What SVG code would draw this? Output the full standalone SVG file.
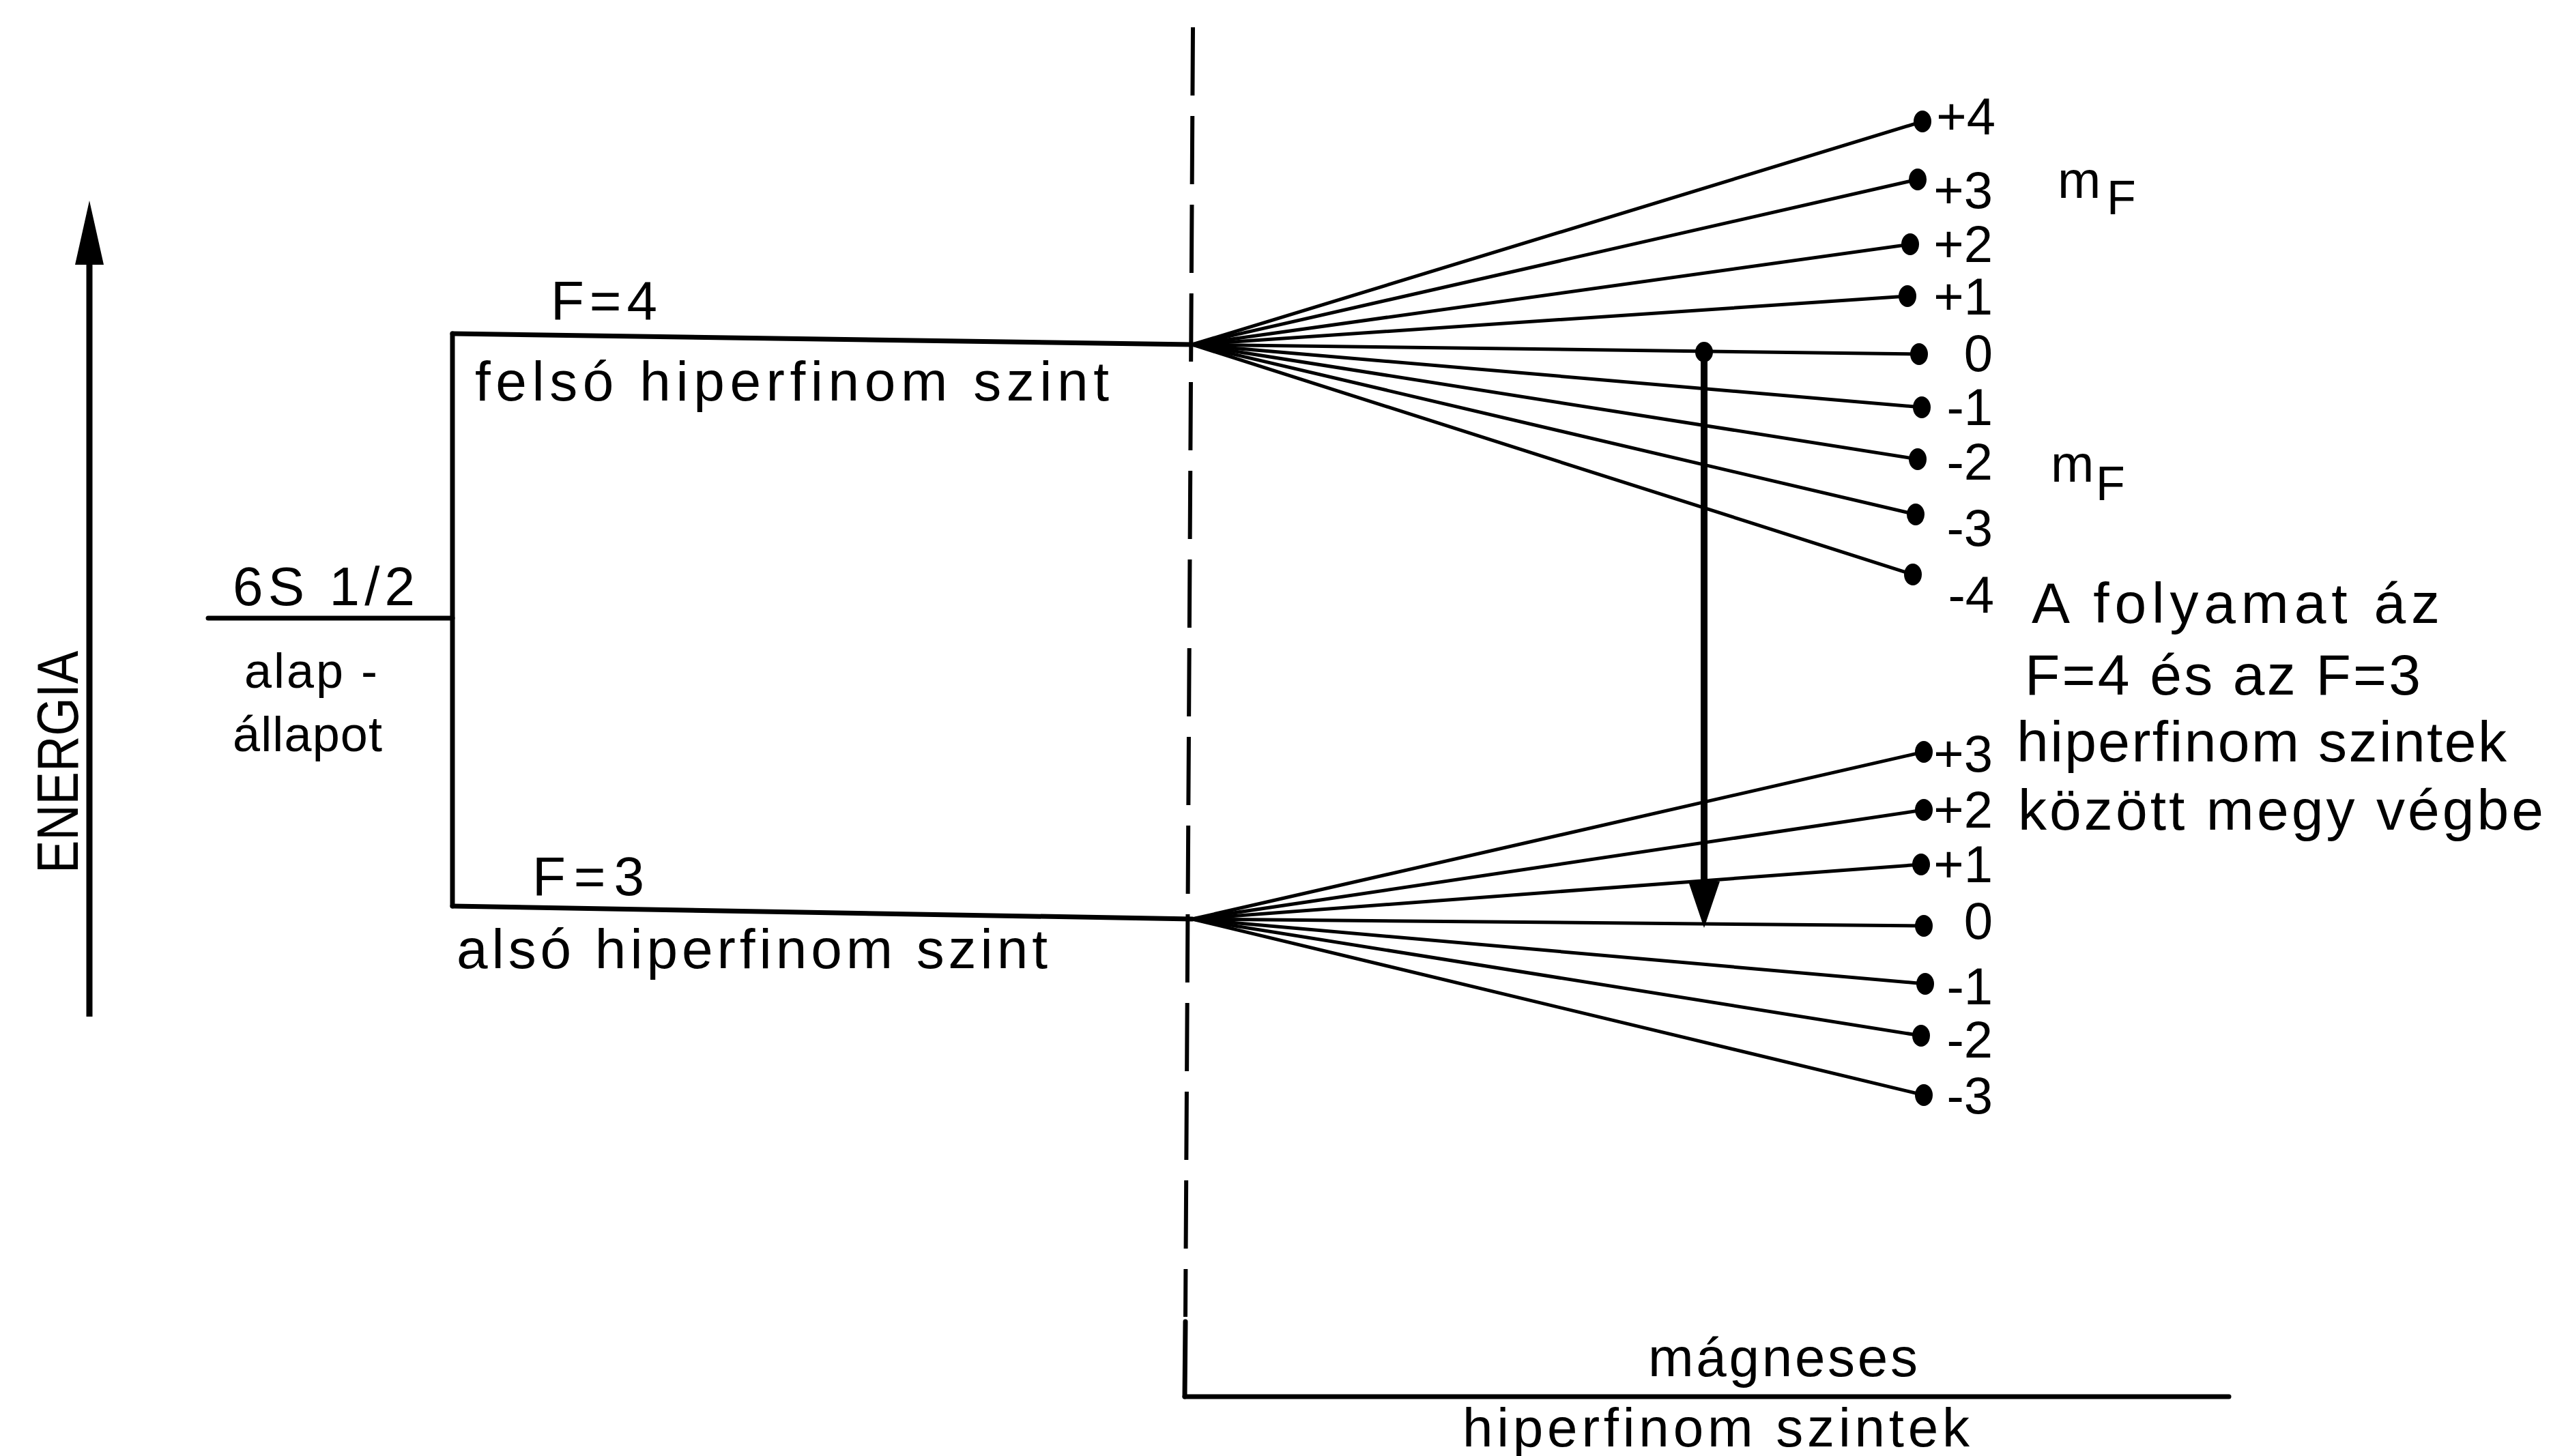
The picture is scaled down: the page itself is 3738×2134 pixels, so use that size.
<svg xmlns="http://www.w3.org/2000/svg" width="3738" height="2134" viewBox="0 0 3738 2134">
<style>
  .t { font-family: "Liberation Sans", Arial, sans-serif; fill: #000; }
  .num { font-family: "Liberation Sans", Arial, sans-serif; font-size: 76px; fill: #000; text-anchor: end; }
  .lvl { stroke: #000; stroke-width: 7; fill: none; stroke-linecap: round; }
  .fan { stroke: #000; stroke-width: 5; fill: none; stroke-linecap: round; }
  .dot { fill: #000; }
</style>
<rect width="3738" height="2134" fill="#fff"/>

<g id="energy-axis">
  <line x1="131" y1="370" x2="131" y2="1490" stroke="#000" stroke-width="9"/>
  <polygon points="131,294 110,388 152,388" fill="#000"/>
  <text class="t" transform="translate(114,1117) rotate(-90)" x="0" y="0" font-size="86" text-anchor="middle" textLength="326" lengthAdjust="spacingAndGlyphs">ENERGIA</text>
</g>

<g id="ground-state">
  <line class="lvl" x1="305" y1="906" x2="663" y2="906"/>
  <text class="t" x="341" y="887" font-size="80" textLength="267">6S 1/2</text>
  <text class="t" x="358" y="1008" font-size="72" textLength="195">alap -</text>
  <text class="t" x="341" y="1101" font-size="72" textLength="219">állapot</text>
</g>

<g id="bracket">
  <line class="lvl" x1="663" y1="489" x2="663" y2="1328"/>
</g>

<g id="level-F4">
  <line class="lvl" x1="663" y1="489" x2="1747" y2="505"/>
  <text class="t" x="807" y="468" font-size="80" textLength="156">F=4</text>
  <text class="t" x="696" y="587" font-size="82" textLength="929">felsó hiperfinom szint</text>
</g>

<g id="level-F3">
  <line class="lvl" x1="663" y1="1328" x2="1747" y2="1347"/>
  <text class="t" x="780" y="1312" font-size="80" textLength="164">F=3</text>
  <text class="t" x="669" y="1419" font-size="82" textLength="866">alsó hiperfinom szint</text>
</g>

<g id="field-axis">
  <line x1="1748" y1="40" x2="1737" y2="1930" stroke="#000" stroke-width="6" stroke-dasharray="100 30"/>
  <line class="lvl" x1="1737" y1="1937" x2="1736" y2="2047"/>
  <line class="lvl" x1="1736" y1="2047" x2="3266" y2="2047"/>
  <text class="t" x="2415" y="2017" font-size="80" textLength="395">mágneses</text>
  <text class="t" x="2143" y="2120" font-size="80" textLength="743">hiperfinom szintek</text>
</g>

<g id="connectors">
  <g id="fan-upper">
    <line class="fan" x1="1747" y1="505" x2="2817" y2="178"/>
    <line class="fan" x1="1747" y1="505" x2="2810" y2="263"/>
    <line class="fan" x1="1747" y1="505" x2="2799" y2="358"/>
    <line class="fan" x1="1747" y1="505" x2="2795" y2="434"/>
    <line class="fan" x1="1747" y1="505" x2="2812" y2="519"/>
    <line class="fan" x1="1747" y1="505" x2="2816" y2="597"/>
    <line class="fan" x1="1747" y1="505" x2="2810" y2="673"/>
    <line class="fan" x1="1747" y1="505" x2="2807" y2="754"/>
    <line class="fan" x1="1747" y1="505" x2="2803" y2="842"/>
  </g>
  <g id="fan-lower">
    <line class="fan" x1="1747" y1="1347" x2="2819" y2="1102"/>
    <line class="fan" x1="1747" y1="1347" x2="2819" y2="1187"/>
    <line class="fan" x1="1747" y1="1347" x2="2815" y2="1267"/>
    <line class="fan" x1="1747" y1="1347" x2="2819" y2="1357"/>
    <line class="fan" x1="1747" y1="1347" x2="2821" y2="1442"/>
    <line class="fan" x1="1747" y1="1347" x2="2815" y2="1518"/>
    <line class="fan" x1="1747" y1="1347" x2="2819" y2="1605"/>
  </g>
  <g id="transition">
    <ellipse class="dot" cx="2497" cy="516" rx="13" ry="15"/>
    <line x1="2497" y1="516" x2="2497" y2="1300" stroke="#000" stroke-width="10"/>
    <polygon points="2497,1360 2474,1292 2520,1292" fill="#000"/>
  </g>
</g>

<g id="sublevels-F4">
  <ellipse class="dot" cx="2817" cy="178" rx="13" ry="16"/>
  <ellipse class="dot" cx="2810" cy="263" rx="13" ry="16"/>
  <ellipse class="dot" cx="2799" cy="358" rx="13" ry="16"/>
  <ellipse class="dot" cx="2795" cy="434" rx="13" ry="16"/>
  <ellipse class="dot" cx="2812" cy="519" rx="13" ry="16"/>
  <ellipse class="dot" cx="2816" cy="597" rx="13" ry="16"/>
  <ellipse class="dot" cx="2810" cy="673" rx="13" ry="16"/>
  <ellipse class="dot" cx="2807" cy="754" rx="13" ry="16"/>
  <ellipse class="dot" cx="2803" cy="842" rx="13" ry="16"/>
  <text class="num" x="2924" y="197">+4</text>
  <text class="num" x="2920" y="305">+3</text>
  <text class="num" x="2920" y="384">+2</text>
  <text class="num" x="2920" y="461">+1</text>
  <text class="num" x="2920" y="544">0</text>
  <text class="num" x="2920" y="623">-1</text>
  <text class="num" x="2920" y="703">-2</text>
  <text class="num" x="2920" y="800">-3</text>
  <text class="num" x="2922" y="898">-4</text>
  <text class="t" x="3015" y="290" font-size="76">m<tspan x="3087" y="314" font-size="70">F</tspan></text>
  <text class="t" x="3005" y="706" font-size="76">m<tspan x="3071" y="733" font-size="70">F</tspan></text>
</g>

<g id="sublevels-F3">
  <ellipse class="dot" cx="2819" cy="1102" rx="13" ry="16"/>
  <ellipse class="dot" cx="2819" cy="1187" rx="13" ry="16"/>
  <ellipse class="dot" cx="2815" cy="1267" rx="13" ry="16"/>
  <ellipse class="dot" cx="2819" cy="1357" rx="13" ry="16"/>
  <ellipse class="dot" cx="2821" cy="1442" rx="13" ry="16"/>
  <ellipse class="dot" cx="2815" cy="1518" rx="13" ry="16"/>
  <ellipse class="dot" cx="2819" cy="1605" rx="13" ry="16"/>
  <text class="num" x="2920" y="1131">+3</text>
  <text class="num" x="2920" y="1213">+2</text>
  <text class="num" x="2920" y="1293">+1</text>
  <text class="num" x="2920" y="1376">0</text>
  <text class="num" x="2920" y="1472">-1</text>
  <text class="num" x="2920" y="1550">-2</text>
  <text class="num" x="2920" y="1632">-3</text>
</g>

<g id="note">
  <text class="t" x="2977" y="913" font-size="84" textLength="598">A folyamat áz</text>
  <text class="t" x="2967" y="1018" font-size="84" textLength="580">F=4 és az F=3</text>
  <text class="t" x="2955" y="1116" font-size="84" textLength="718">hiperfinom szintek</text>
  <text class="t" x="2957" y="1216" font-size="84" textLength="770">között megy végbe</text>
</g>
</svg>
